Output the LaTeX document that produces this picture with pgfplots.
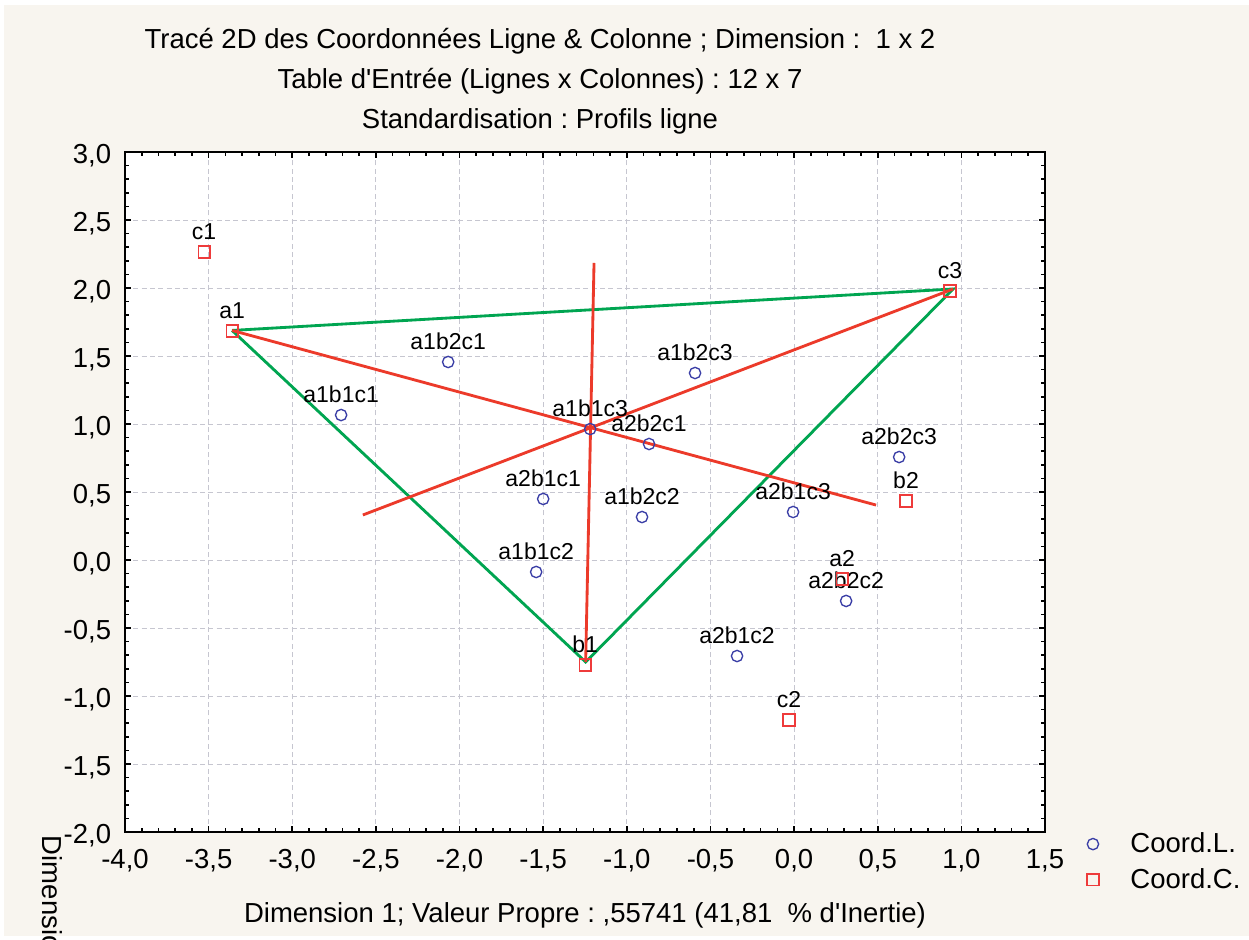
\documentclass[border=0pt]{standalone}
\usepackage{fontspec}
\setmainfont{Liberation Sans}
\usepackage{pgfplots}
\pgfplotsset{compat=1.18}
\definecolor{bgc}{HTML}{F8F5EF}
\definecolor{gridc}{HTML}{C6C6D0}
\definecolor{grn}{HTML}{00A551}
\definecolor{rd}{HTML}{EC3A2A}
\definecolor{bl}{HTML}{3A3EA6}
\definecolor{sqc}{HTML}{EE3B3B}
\newcommand{\bigf}{\fontsize{16.5}{19}\selectfont}
\newcommand{\lblf}{\fontsize{13.8}{16}\selectfont}
\frenchspacing
\pgfplotstableread{
label x y
a1b1c1 -2.708 1.066
a1b2c1 -2.068 1.456
a1b2c3 -0.592 1.375
a1b1c3 -1.219 0.963
a2b2c1 -0.867 0.853
a2b1c1 -1.500 0.449
a1b2c2 -0.909 0.316
a2b1c3 -0.006 0.353
a2b2c3 0.628 0.757
a1b1c2 -1.542 -0.088
a2b2c2 0.311 -0.301
a2b1c2 -0.341 -0.706
}\rowtab
\pgfplotstableread{
label x y
c1 -3.527 2.265
a1 -3.359 1.684
c3 0.932 1.978
b2 0.669 0.434
a2 0.287 -0.140
b1 -1.249 -0.772
c2 -0.030 -1.176
}\coltab
\begin{document}
\begin{tikzpicture}
\fill[white] (0,0) rectangle (749.4pt,563.4pt);
\fill[bgc] (2.4pt,1.8pt) rectangle (749.4pt,560.4pt);
\useasboundingbox (0,0) rectangle (749.4pt,563.4pt);
\begin{axis}[
  at={(75pt,64.2pt)}, anchor=south west,
  scale only axis, width=552pt, height=408pt,
  xmin=-4, xmax=1.5, ymin=-2, ymax=3,
  xtick={-4,-3.5,-3,-2.5,-2,-1.5,-1,-0.5,0,0.5,1,1.5},
  ytick={-2,-1.5,-1,-0.5,0,0.5,1,1.5,2,2.5,3},
  minor tick num=4,
  tick align=inside,
  major tick length=3.6pt, minor tick length=2.4pt,
  tick style={black, line width=1pt},
  axis line style={black, line width=1.6pt},
  axis background/.style={fill=white},
  grid=major,
  major grid style={gridc, dash pattern=on 3pt off 2pt, line width=0.6pt},
  tick label style={font=\bigf},
  xticklabel style={yshift=-7pt},
  yticklabel style={xshift=-4.8pt, yshift=-2.4pt},
  xticklabel={\pgfmathprintnumber[assume math mode=true, fixed, fixed zerofill, precision=1, use comma]{\tick}},
  yticklabel={\pgfmathprintnumber[assume math mode=true, fixed, fixed zerofill, precision=1, use comma]{\tick}},
  legend style={at={(1.04,0.009)}, anchor=north west, draw=none, fill=none,
    font=\bigf, row sep=4pt,
    /tikz/every odd column/.append style={column sep=17pt}},
  legend cell align=left,
  clip=false,
]
\addplot[grn, line width=1.7pt, forget plot] coordinates {(-3.360,1.688) (0.951,1.993) (-1.246,-0.750) (-3.360,1.688)};
\addplot[rd, line width=1.7pt, forget plot] coordinates {(-3.360,1.688) (0.490,0.404)};
\addplot[rd, line width=1.7pt, forget plot] coordinates {(-2.578,0.331) (0.951,1.993)};
\addplot[rd, line width=1.7pt, forget plot] coordinates {(-1.246,-0.750) (-1.196,2.184)};
\addplot[black, only marks, mark=none, forget plot,
  nodes near coords={\pgfplotspointmeta}, point meta=explicit symbolic,
  every node near coord/.append style={anchor=south, inner sep=0pt, yshift=7.2pt, font=\lblf}]
  table[x=x, y=y, meta=label] {\rowtab};
\addplot[black, only marks, mark=none, forget plot,
  nodes near coords={\pgfplotspointmeta}, point meta=explicit symbolic,
  every node near coord/.append style={anchor=south, inner sep=0pt, yshift=7.2pt, font=\lblf}]
  table[x=x, y=y, meta=label] {\coltab};
\addplot[only marks, mark=o, mark size=3.4pt, color=bl, mark options={line width=0.8pt}]
  table[x=x, y=y] {\rowtab};
\addlegendentry{Coord.L.}
\addplot[only marks, mark=square, mark size=3.5pt, color=sqc, mark options={line width=0.9pt}]
  table[x=x, y=y] {\coltab};
\addlegendentry{Coord.C.}
\end{axis}
\node[anchor=base, font=\bigf] at (324pt,534.3pt) {Tracé 2D des Coordonnées Ligne \& Colonne ; Dimension :\ \ 1 x 2};
\node[anchor=base, font=\bigf] at (324pt,510.3pt) {Table d\textquotesingle Entrée (Lignes x Colonnes) : 12 x 7};
\node[anchor=base, font=\bigf] at (324pt,486.3pt) {Standardisation : Profils ligne};
\node[anchor=base, font=\bigf] at (351pt,10.2pt) {Dimension 1; Valeur Propre : ,55741 (41,81\ \ \% d\textquotesingle Inertie)};
\node[anchor=base west, rotate=-90, font=\bigf] at (25.2pt,65.4pt) {Dimension 2};
\end{tikzpicture}
\end{document}
